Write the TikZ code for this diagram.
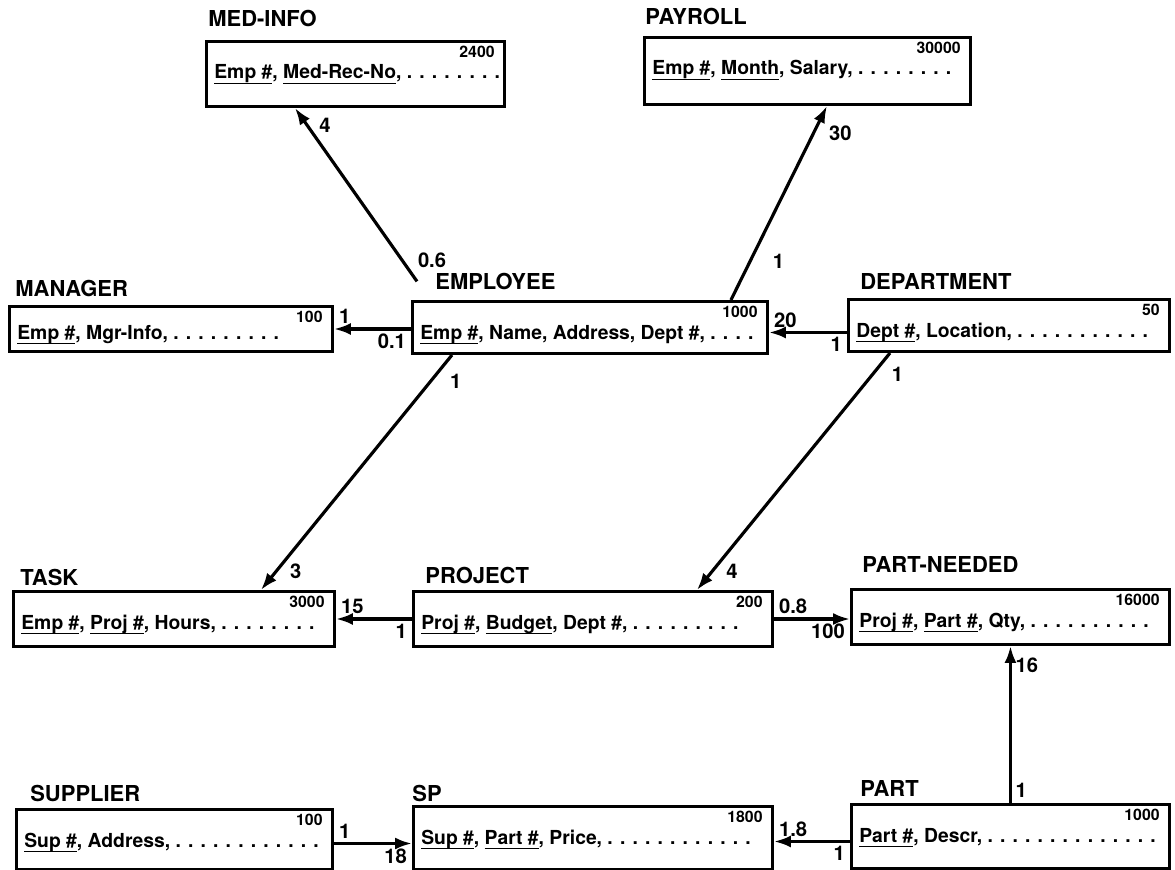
\documentclass[tikz,border=0pt]{standalone}
\usepackage{fontspec}
\setmainfont{TeX Gyre Heros}
\usetikzlibrary{arrows.meta,positioning}

\newcommand{\pk}[1]{\setbox0\hbox{#1}\rlap{\raisebox{-3pt}{\rule{\wd0}{0.9pt}}}\box0}

\begin{document}
\begin{tikzpicture}[
  x=0.02cm, y=-0.02cm,
  rel/.style={draw, line width=1.7pt, anchor=north west, inner sep=0pt},
  title/.style={font=\fontsize{12.5}{14}\selectfont\bfseries, inner sep=0pt},
  card/.style={font=\fontsize{9}{10}\selectfont\bfseries, anchor=north east, inner sep=0pt},
  attr/.style={font=\fontsize{11}{13}\selectfont\bfseries, anchor=base west, inner sep=0pt},
  num/.style={font=\fontsize{11.5}{13}\selectfont\bfseries, inner sep=2pt},
  link/.style={-{Latex[length=0.34cm,width=0.24cm]}, line width=1.8pt}
]
\useasboundingbox (0,0) rectangle (1175,869);

% relations
\node[rel, minimum width=5.96cm, minimum height=1.30cm] (medinfo) at (205,40) {};
\node[rel, minimum width=6.52cm, minimum height=1.34cm] (payroll) at (643,36) {};
\node[rel, minimum width=6.46cm, minimum height=0.90cm] (manager) at (8,305) {};
\node[rel, minimum width=7.10cm, minimum height=1.04cm] (employee) at (411,300) {};
\node[rel, minimum width=6.42cm, minimum height=1.04cm] (department) at (847,298) {};
\node[rel, minimum width=6.42cm, minimum height=1.10cm] (task) at (12,590) {};
\node[rel, minimum width=7.18cm, minimum height=1.10cm] (project) at (412,590) {};
\node[rel, minimum width=6.36cm, minimum height=1.10cm] (partneeded) at (850,588) {};
\node[rel, minimum width=6.32cm, minimum height=1.20cm] (supplier) at (15,808) {};
\node[rel, minimum width=7.18cm, minimum height=1.26cm] (sp) at (412,805) {};
\node[rel, minimum width=6.36cm, minimum height=1.28cm] (part) at (850,803) {};

% titles
\node[title, above right=0.26cm and 0.06cm of medinfo.north west] (medinfo-t) {MED-INFO};
\node[title, above right=0.22cm and 0.04cm of payroll.north west] (payroll-t) {PAYROLL};
\node[title, above right=0.16cm and 0.14cm of manager.north west] (manager-t) {MANAGER};
\node[title, above right=0.20cm and 0.48cm of employee.north west] (employee-t) {EMPLOYEE};
\node[title, above right=0.16cm and 0.26cm of department.north west] (department-t) {DEPARTMENT};
\node[title, above right=0.08cm and 0.16cm of task.north west] (task-t) {TASK};
\node[title, above right=0.12cm and 0.26cm of project.north west] (project-t) {PROJECT};
\node[title, above right=0.30cm and 0.24cm of partneeded.north west] (partneeded-t) {PART-NEEDED};
\node[title, above right=0.12cm and 0.30cm of supplier.north west] (supplier-t) {SUPPLIER};
\node[title, above right=0.06cm and 0cm of sp.north west] (sp-t) {SP};
\node[title, above right=0.12cm and 0.20cm of part.north west] (part-t) {PART};

% record counts
\node[card] (medinfo-n) at ([shift={(-0.22cm,-0.12cm)}]medinfo.north east) {2400};
\node[card] (payroll-n) at ([shift={(-0.22cm,-0.12cm)}]payroll.north east) {30000};
\node[card] (manager-n) at ([shift={(-0.22cm,-0.12cm)}]manager.north east) {100};
\node[card] (employee-n) at ([shift={(-0.22cm,-0.12cm)}]employee.north east) {1000};
\node[card] (department-n) at ([shift={(-0.22cm,-0.12cm)}]department.north east) {50};
\node[card] (task-n) at ([shift={(-0.22cm,-0.12cm)}]task.north east) {3000};
\node[card] (project-n) at ([shift={(-0.22cm,-0.12cm)}]project.north east) {200};
\node[card] (partneeded-n) at ([shift={(-0.22cm,-0.12cm)}]partneeded.north east) {16000};
\node[card] (supplier-n) at ([shift={(-0.22cm,-0.12cm)}]supplier.north east) {100};
\node[card] (sp-n) at ([shift={(-0.22cm,-0.12cm)}]sp.north east) {1800};
\node[card] (part-n) at ([shift={(-0.22cm,-0.12cm)}]part.north east) {1000};

% fields
\node[attr] (medinfo-a) at ([shift={(0.18cm,-0.78cm)}]medinfo.north west) {\pk{Emp \#}, \pk{Med-Rec-No}, . . . . . . . .};
\node[attr] (payroll-a) at ([shift={(0.18cm,-0.78cm)}]payroll.north west) {\pk{Emp \#}, \pk{Month}, Salary, . . . . . . . .};
\node[attr] (manager-a) at ([shift={(0.18cm,-0.68cm)}]manager.north west) {\pk{Emp \#}, Mgr-Info, . . . . . . . . .};
\node[attr] (employee-a) at ([shift={(0.18cm,-0.78cm)}]employee.north west) {\pk{Emp \#}, Name, Address, Dept \#, . . . .};
\node[attr] (department-a) at ([shift={(0.18cm,-0.78cm)}]department.north west) {\pk{Dept \#}, Location, . . . . . . . . . . .};
\node[attr] (task-a) at ([shift={(0.18cm,-0.78cm)}]task.north west) {\pk{Emp \#}, \pk{Proj \#}, Hours, . . . . . . . .};
\node[attr] (project-a) at ([shift={(0.18cm,-0.78cm)}]project.north west) {\pk{Proj \#}, \pk{Budget}, Dept \#, . . . . . . . . .};
\node[attr] (partneeded-a) at ([shift={(0.18cm,-0.78cm)}]partneeded.north west) {\pk{Proj \#}, \pk{Part \#}, Qty, . . . . . . . . . .};
\node[attr] (supplier-a) at ([shift={(0.18cm,-0.78cm)}]supplier.north west) {\pk{Sup \#}, Address, . . . . . . . . . . . .};
\node[attr] (sp-a) at ([shift={(0.18cm,-0.78cm)}]sp.north west) {\pk{Sup \#}, \pk{Part \#}, Price, . . . . . . . . . . . .};
\node[attr] (part-a) at ([shift={(0.18cm,-0.78cm)}]part.north west) {\pk{Part \#}, Descr, . . . . . . . . . . . . . .};

% access paths
\coordinate (dept-l) at ([yshift=-0.14cm]department.west);
\coordinate (sup-r) at ([yshift=-0.08cm]supplier.east);
\coordinate (part-l) at ([yshift=-0.1cm]part.west);

\draw[link] ([xshift=-0.36cm]employee-t.west) -- node[num, pos=0.12, right=6pt] (l-emp-med) {0.6} node[num, pos=0.9, right=4pt] (l-med-emp) {4} ([xshift=1.8cm]medinfo.south west);
\draw[link] ([xshift=-0.76cm]employee.north east) -- node[num, pos=0.2, right=10pt] (l-emp-pay) {1} node[num, pos=0.86, right=6pt] (l-pay-emp) {30} ([xshift=3.68cm]payroll.south west);
\draw[link] (employee.west |- manager.east) -- node[num, pos=0, below left] (l-emp-mgr) {0.1} node[num, pos=1, above right] (l-mgr-emp) {1} (manager.east);
\draw[link] (dept-l) -- node[num, pos=0, below left] (l-dept-emp) {1} node[num, pos=1, above right] (l-emp-dept) {20} (employee.east |- dept-l);
\draw[link] ([xshift=0.82cm]employee.south west) -- node[num, pos=0.11, right=8pt] (l-emp-task) {1} node[num, pos=0.92, right=5pt] (l-task-emp) {3} ([xshift=-1.5cm]task.north east);
\draw[link] ([xshift=0.86cm]department.south west) -- node[num, pos=0.09, right=8pt] (l-dept-proj) {1} node[num, pos=0.92, right=5pt] (l-proj-dept) {4} ([xshift=-1.54cm]project.north east);
\draw[link] (project.west) -- node[num, pos=0, below left] (l-proj-task) {1} node[num, pos=1, above right] (l-task-proj) {15} (task.east |- project.west);
\draw[link] (project.east) -- node[num, pos=0, above right] (l-proj-pn) {0.8} node[num, pos=1, below left] (l-pn-proj) {100} (partneeded.west |- project.east);
\draw[link] (part.north) -- node[num, pos=0.08, right] (l-part-pn) {1} node[num, pos=0.88, right] (l-pn-part) {16} (partneeded.south);
\draw[link] (sup-r) -- node[num, pos=0, above right] (l-sup-sp) {1} node[num, pos=1, below left] (l-sp-sup) {18} (sp.west |- sup-r);
\draw[link] (part-l) -- node[num, pos=0, below left] (l-part-sp) {1} node[num, pos=1, above right] (l-sp-part) {1.8} (sp.east |- part-l);
\end{tikzpicture}
\end{document}
